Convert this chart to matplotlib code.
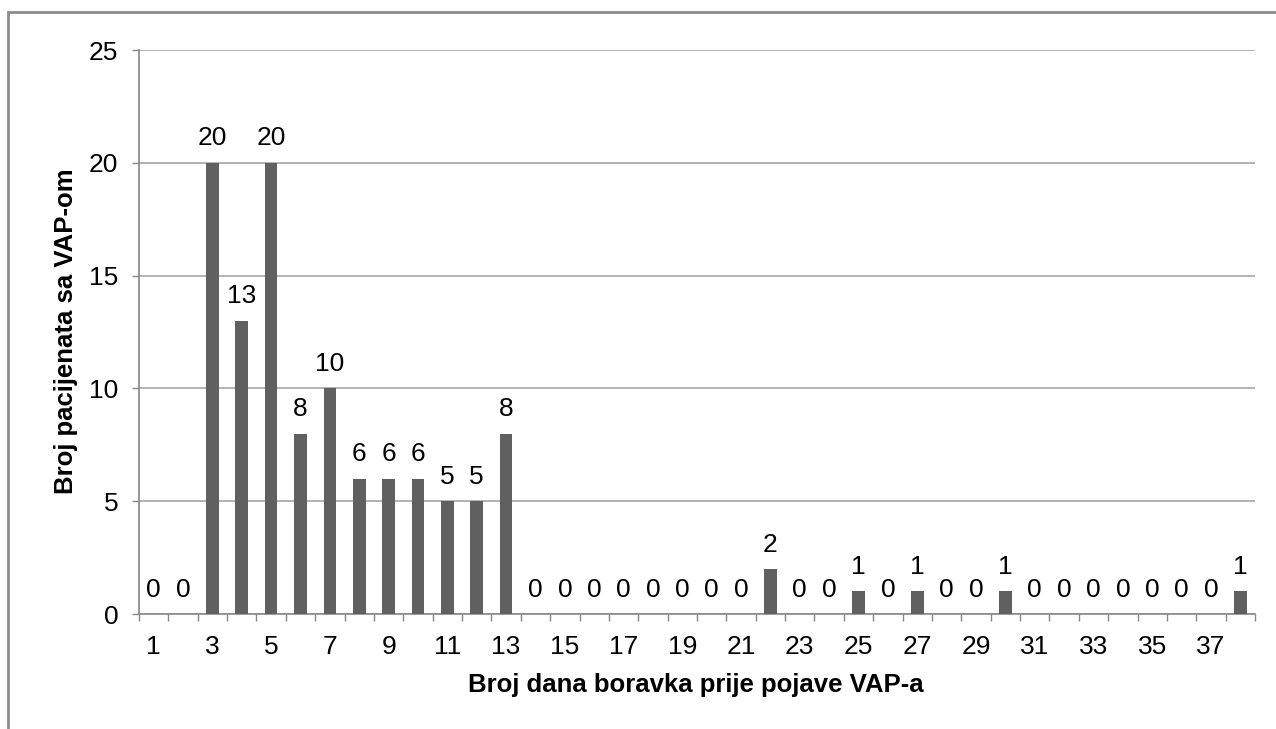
import numpy as np
import matplotlib
matplotlib.use("Agg")
import matplotlib.pyplot as plt
from matplotlib.patches import Rectangle

plt.rcParams["font.family"] = ["Liberation Sans", "DejaVu Sans"]

# broj dana boravka (1..38) i broj pacijenata sa VAP-om
days = list(range(1, 39))
counts = [0, 0, 20, 13, 20, 8, 10, 6, 6, 6, 5, 5, 8,
          0, 0, 0, 0, 0, 0, 0, 0, 2, 0, 0, 1, 0, 1, 0, 0, 1,
          0, 0, 0, 0, 0, 0, 0, 1]
tick_labels = [str(d) for d in days[::2]]

BAR, GRID, AXC, BORDER = "#606060", "#A6A6A6", "#888888", "#8C8C8C"
W, H = 1276, 729
FS = 19

fig = plt.figure(figsize=(W / 100, H / 100), dpi=100)
ax = fig.add_axes([139 / W, 1 - 614 / H, (1255 - 139) / W, (614 - 50) / H])

x = np.arange(len(days))
ax.bar(x, counts, width=0.43, color=BAR, zorder=3)
for xi, v in zip(x, counts):
    ax.annotate(str(v), (xi, v), xytext=(0, 12.5), textcoords="offset points",
                ha="center", va="baseline", fontsize=FS, color="black")

ax.set_xlim(-0.5, len(days) - 0.5)
ax.set_ylim(0, 25)
ax.set_yticks(range(0, 26, 5))
ax.yaxis.grid(True, color=GRID, lw=1.2, zorder=0)
ax.tick_params(axis="y", length=5, width=1, color=AXC, pad=10, labelsize=FS)

ax.set_xticks(x[::2])
ax.set_xticklabels(tick_labels)
ax.set_xticks(np.arange(-0.5, len(days)), minor=True)
ax.tick_params(axis="x", which="major", length=0, pad=15, labelsize=FS)
ax.tick_params(axis="x", which="minor", length=5, width=1, color=AXC)

for s in ["top", "right"]:
    ax.spines[s].set_visible(False)
for s in ["left", "bottom"]:
    ax.spines[s].set_color(AXC)
    ax.spines[s].set_linewidth(1.2)

fig.text(696 / W, 1 - 692 / H, "Broj dana boravka prije pojave VAP-a",
         ha="center", va="baseline", fontsize=18.5, fontweight="bold")
fig.text(66 / W, 1 - 331 / H, "Broj pacijenata sa VAP-om", rotation=90,
         ha="center", va="center", fontsize=18.5, fontweight="bold")

fig.patches.append(Rectangle((8 / W, -0.2), 1.2, 1.2 - 12 / H, transform=fig.transFigure,
                             fill=False, edgecolor=BORDER, lw=2))

fig.savefig("out.png", dpi=100)
